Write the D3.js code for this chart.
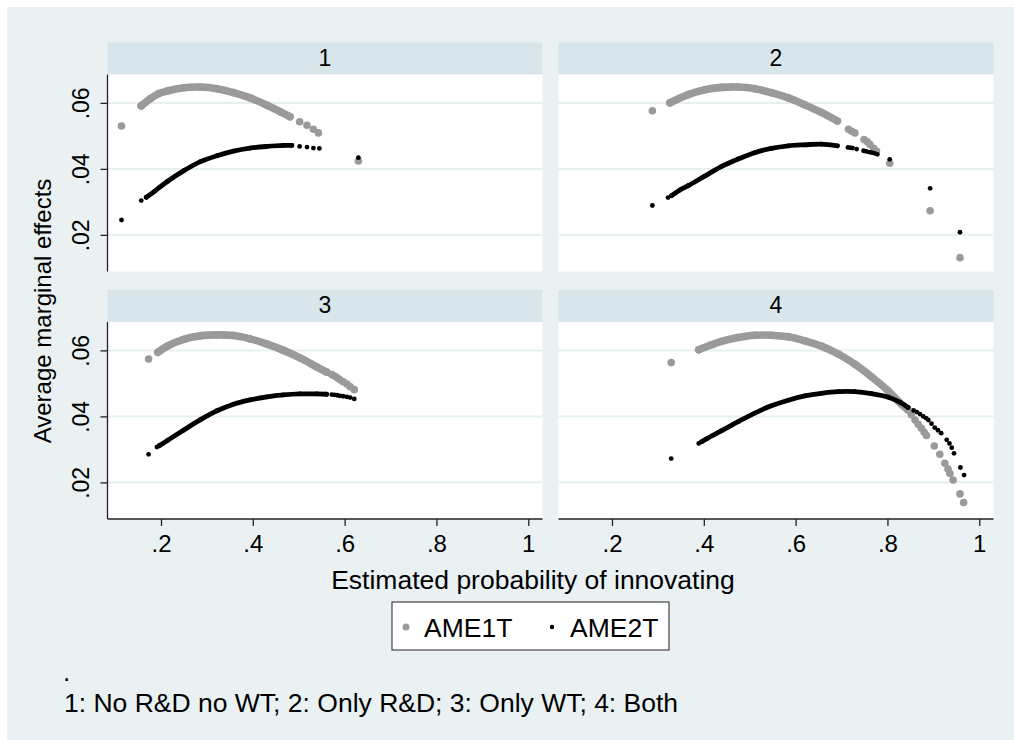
<!DOCTYPE html>
<html>
<head>
<meta charset="utf-8">
<script src="https://cdn.jsdelivr.net/npm/d3@7"></script>
<style>
  body { margin: 0; background: #ffffff; }
  text { font-family: "Liberation Sans", Arial, sans-serif; fill: #000; }
</style>
</head>
<body>
<div class="vis-ame"></div>
<script>
// panel labels, tick values, legend/note text
const panelLabels = ["1", "2", "3", "4"];
const xTicks = [0.2, 0.4, 0.6, 0.8, 1];
const yTicks = [0.02, 0.04, 0.06];
const seriesNames = ["AME1T", "AME2T"];
const noteText = "1: No R&D no WT; 2: Only R&D; 3: Only WT; 4: Both";

// AME1T / AME2T: dense runs ("band") and loose markers ("dots")
const ame1Band1 = [[.157,.0591],[.177,.0613],[.195,.0628],[.213,.0636],[.249,.0646],[.286,.0648],[.322,.0643],[.358,.0631],[.394,.0615],[.431,.0593],[.460,.0573],[.481,.0558]];
const ame1Dots1 = [[.114,.0530],[.157,.0591],[.502,.0543],[.518,.0532],[.532,.0520],[.543,.0509],[.630,.0424]];
const ame2Band1 = [[.168,.0314],[.186,.0332],[.213,.0361],[.249,.0394],[.286,.0422],[.322,.0440],[.358,.0454],[.394,.0463],[.431,.0468],[.467,.0471],[.485,.0471]];
const ame2Dots1 = [[.114,.0245],[.157,.0304],[.502,.0468],[.518,.0466],[.532,.0463],[.545,.0462],[.630,.0434]];

const ame1Band2 = [[.326,.0600],[.366,.0625],[.402,.0640],[.438,.0647],[.475,.0648],[.511,.0643],[.547,.0631],[.584,.0615],[.620,.0594],[.656,.0571],[.691,.0545]];
const ame1Dots2 = [[.288,.0576],[.715,.0520],[.722,.0514],[.729,.0509],[.749,.0489],[.756,.0482],[.762,.0474],[.770,.0462],[.776,.0454],[.805,.0417],[.893,.0273],[.958,.0131]];
const ame2Band2 = [[.330,.0319],[.348,.0336],[.366,.0349],[.402,.0378],[.438,.0407],[.475,.0430],[.511,.0449],[.547,.0462],[.584,.0470],[.620,.0473],[.656,.0475],[.691,.0470]];
const ame2Dots2 = [[.288,.0289],[.322,.0313],[.714,.0465],[.719,.0464],[.724,.0463],[.733,.0460],[.748,.0455],[.754,.0453],[.760,.0451],[.766,.0449],[.772,.0447],[.778,.0444],[.805,.0429],[.893,.0341],[.958,.0208]];

const ame1Band3 = [[.193,.0594],[.213,.0612],[.249,.0633],[.286,.0644],[.322,.0647],[.358,.0645],[.394,.0635],[.431,.0619],[.467,.0600],[.503,.0577],[.539,.0550],[.561,.0534]];
const ame1Dots3 = [[.173,.0574],[.572,.0527],[.578,.0522],[.584,.0517],[.590,.0511],[.597,.0505],[.605,.0498],[.612,.0490],[.621,.0481]];
const ame2Band3 = [[.196,.0311],[.213,.0326],[.249,.0358],[.286,.0390],[.322,.0417],[.358,.0437],[.394,.0450],[.431,.0459],[.467,.0465],[.503,.0468],[.539,.0468],[.561,.0467]];
const ame2Dots3 = [[.173,.0285],[.191,.0307],[.572,.0466],[.578,.0465],[.584,.0464],[.590,.0462],[.597,.0461],[.605,.0459],[.612,.0457],[.621,.0453]];

const ame1Band4 = [[.389,.0602],[.417,.0617],[.438,.0627],[.475,.0639],[.511,.0646],[.547,.0646],[.584,.0641],[.620,.0629],[.656,.0613],[.693,.0589],[.729,.0558],[.765,.0520],[.802,.0477],[.824,.0445],[.844,.0420]];
const ame1Dots4 = [[.329,.0563],[.852,.0405],[.860,.0389],[.867,.0376],[.874,.0364],[.880,.0352],[.885,.0342],[.902,.0310],[.914,.0285],[.925,.0258],[.932,.0240],[.936,.0227],[.943,.0207],[.958,.0165],[.966,.0139]];
const ame2Band4 = [[.395,.0323],[.406,.0332],[.438,.0356],[.475,.0384],[.511,.0410],[.547,.0432],[.584,.0449],[.620,.0462],[.656,.0470],[.693,.0475],[.729,.0475],[.765,.0469],[.802,.0458],[.827,.0443],[.845,.0427]];
const ame2Dots4 = [[.329,.0272],[.389,.0318],[.857,.0418],[.864,.0413],[.871,.0407],[.878,.0400],[.884,.0395],[.889,.0389],[.896,.0378],[.903,.0366],[.910,.0358],[.917,.0349],[.929,.0329],[.935,.0318],[.940,.0305],[.945,.0288],[.959,.0245],[.967,.0222]];

const panelData = [
  { ame1: [ame1Band1, ame1Dots1], ame2: [ame2Band1, ame2Dots1] },
  { ame1: [ame1Band2, ame1Dots2], ame2: [ame2Band2, ame2Dots2] },
  { ame1: [ame1Band3, ame1Dots3], ame2: [ame2Band3, ame2Dots3] },
  { ame1: [ame1Band4, ame1Dots4], ame2: [ame2Band4, ame2Dots4] }
];

const bg = "#e9f1f3", stripFill = "#d8e5ea", gridCol = "#e6eff1";
const grayCol = "#9a9a9a", blackCol = "#000000";

const svg = d3.select(".vis-ame").append("svg")
  .attr("width", 1014).attr("height", 740);

svg.append("rect").attr("x", 7).attr("y", 7).attr("width", 1007).attr("height", 733).attr("fill", bg);

// panel geometry
const colX = [107.5, 558.5], pw = 435;
const rowY = [74.5, 322], ph = 197, stripH = 32;

const x = d3.scaleLinear().domain([0.0835, 1.031]).range([0, pw]);
const y = d3.scaleLinear().domain([0.0089, 0.0686]).range([ph, 0]);

const line = d3.line().x(d => x(d[0])).y(d => y(d[1])).curve(d3.curveCatmullRom);

panelLabels.forEach((lab, i) => {
  const col = i % 2, row = Math.floor(i / 2);
  const g = svg.append("g").attr("transform", `translate(${colX[col]},${rowY[row]})`);

  // header strip
  g.append("rect").attr("x", 0).attr("y", -stripH).attr("width", pw).attr("height", stripH).attr("fill", stripFill);
  g.append("text").attr("x", pw / 2).attr("y", -9).attr("text-anchor", "middle")
    .style("font-size", "23px").text(lab);

  // plot region + grid
  g.append("rect").attr("width", pw).attr("height", ph).attr("fill", "#fff");
  g.selectAll(".grid").data(yTicks).enter().append("line")
    .attr("x1", 0).attr("x2", pw).attr("y1", d => y(d)).attr("y2", d => y(d))
    .attr("stroke", gridCol).attr("stroke-width", 2);

  // markers: AME1T first, AME2T on top
  const d = panelData[i];
  [[d.ame1, grayCol, 3.8], [d.ame2, blackCol, 2.4]].forEach(([s, c, r]) => {
    g.append("path").datum(s[0]).attr("d", line).attr("fill", "none")
      .attr("stroke", c).attr("stroke-width", r * 2).attr("stroke-linecap", "round");
    g.selectAll(null).data(s[0].concat(s[1])).enter().append("circle")
      .attr("cx", p => x(p[0])).attr("cy", p => y(p[1])).attr("r", r).attr("fill", c);
  });

  // y axis on left column
  if (col === 0) {
    const ya = g.append("g").call(d3.axisLeft(y).tickValues(yTicks).tickSize(7).tickFormat(v => d3.format(".2f")(v).replace(/^0/, "")));
    ya.select(".domain").attr("d", `M0,0V${ph}`).attr("stroke", "#222").attr("stroke-width", 1.3);
    ya.selectAll(".tick line").attr("stroke", "#222").attr("stroke-width", 1.3);
    ya.selectAll(".tick text").attr("x", 0).attr("y", 0).attr("dy", 0)
      .attr("transform", "translate(-19,0) rotate(-90)")
      .attr("text-anchor", "middle").style("font-size", "23px").style("font-family", "Liberation Sans, Arial, sans-serif").attr("fill", "#000");
  }
  // x axis on bottom row
  if (row === 1) {
    const xa = g.append("g").attr("transform", `translate(0,${ph})`)
      .call(d3.axisBottom(x).tickValues(xTicks).tickSize(7).tickFormat(v => v === 1 ? "1" : d3.format(".1f")(v).replace(/^0/, "")));
    xa.select(".domain").attr("d", `M0,0H${pw}`).attr("stroke", "#222").attr("stroke-width", 1.3);
    xa.selectAll(".tick line").attr("stroke", "#222").attr("stroke-width", 1.3);
    xa.selectAll(".tick text").attr("y", 33).attr("dy", 0)
      .style("font-size", "24px").style("font-family", "Liberation Sans, Arial, sans-serif").attr("fill", "#000");
  }
});

// axis titles
svg.append("text").attr("transform", "translate(51,311) rotate(-90)").attr("text-anchor", "middle")
  .style("font-size", "24px").text("Average marginal effects");
svg.append("text").attr("x", 533).attr("y", 589).attr("text-anchor", "middle")
  .style("font-size", "26.5px").text("Estimated probability of innovating");

// legend
const lg = svg.append("g").attr("transform", "translate(392,602)");
lg.append("rect").attr("width", 277).attr("height", 48).attr("fill", "#fff").attr("stroke", "#222").attr("stroke-width", 1);
const legendX = [14, 160];
seriesNames.forEach((name, i) => {
  lg.append("circle").attr("cx", legendX[i]).attr("cy", 25).attr("r", i === 0 ? 3.5 : 2.2)
    .attr("fill", i === 0 ? grayCol : blackCol);
  lg.append("text").attr("x", legendX[i] + 18).attr("y", 35).style("font-size", "26.5px").text(name);
});

// note
svg.append("text").attr("x", 63).attr("y", 681).style("font-size", "26px").text(".");
svg.append("text").attr("x", 64).attr("y", 712).style("font-size", "26.5px").text(noteText);
</script>
</body>
</html>
